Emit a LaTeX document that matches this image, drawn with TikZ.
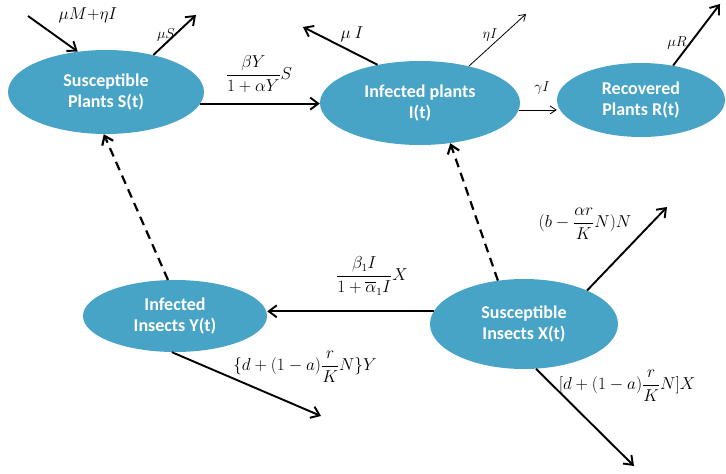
\documentclass[tikz,border=0pt]{standalone}
\usepackage{amsmath}
\usepackage{fontspec}
\setmainfont{Liberation Serif}
\newfontfamily\boxfont{Carlito}
\usetikzlibrary{arrows.meta,shapes.geometric}
\definecolor{ellblue}{RGB}{72,164,198}
\begin{document}
\begin{tikzpicture}[x=1pt,y=-1pt,
  comp/.style={ellipse, fill=ellblue, draw=none, text=white,
    font=\boxfont\bfseries\fontsize{18}{21}\selectfont, align=center, inner sep=0pt},
  thickarr/.style={line width=1.9pt, -{Straight Barb[length=8pt,width=12pt]}},
  thinarr/.style={line width=0.8pt, -{Straight Barb[length=6pt,width=8pt]}},
  dasharr/.style={line width=2.2pt, dash pattern=on 9pt off 6pt, -{Straight Barb[length=8pt,width=12pt]}},
  lab/.style={inner sep=0pt, font=\fontsize{16}{19}\selectfont}]
\useasboundingbox (0,0) rectangle (726,474);

% compartments
\node[comp, minimum width=196pt, minimum height=84pt] (S) at (106,92) {Susceptible\\Plants S(t)};
\node[comp, minimum width=200pt, minimum height=84pt] (I) at (420,103) {Infected plants\\I(t)};
\node[comp, minimum width=168pt, minimum height=74pt] (R) at (641,100) {Recovered\\Plants R(t)};
\node[comp, minimum width=184pt, minimum height=72pt] (Y) at (175,316) {Infected\\Insects Y(t)};
\node[comp, minimum width=188pt, minimum height=90pt] (X) at (524,324) {Susceptible\\Insects X(t)};

% free ends
\coordinate (inS) at (28,16);
\coordinate (outS) at (196,15);
\coordinate (outIa) at (303,27);
\coordinate (outIb) at (526,14);
\coordinate (outR) at (720,4);
\coordinate (outXa) at (667,207);
\coordinate (outXb) at (634,466);
\coordinate (outY) at (321,416);

% connectors
\draw[thickarr] (inS) -- (S.125);
\draw[thickarr] (S.38) -- (outS);
\draw[thickarr] (S.-7) -- (I.west |- S.-7);
\draw[thickarr] (I.138) -- (outIa);
\draw[thinarr] (I.37) -- (outIb);
\draw[thinarr] (I.-4) -- (R.west |- I.-4);
\draw[thickarr] (R.47) -- (outR);
\draw[dasharr] (Y.101) -- (S.-93);
\draw[dasharr] (X.121) -- (I.-53);
\draw[thickarr] (X.172) -- (Y.east |- X.172);
\draw[thickarr] (X.28) -- (outXa);
\draw[thickarr] (X.-75) -- (outXb);
\draw[thickarr] (Y.-95) -- (outY);

% labels
\node[lab, font=\fontsize{19}{21}\selectfont] (lin) at (88,15) {$\mu M{+}\eta I$};
\node[lab, font=\fontsize{14}{16}\selectfont] (lmuS) at (166,35) {$\mu S$};
\node[lab] (lSI) at (259,74) {$\dfrac{\beta Y}{1+\alpha Y}S$};
\node[lab] (lmuI) at (352,34) {$\mu\ I$};
\node[lab, font=\fontsize{14}{16}\selectfont] (leta) at (490,35) {$\eta I$};
\node[lab, font=\fontsize{14}{16}\selectfont] (lgam) at (542,88) {$\gamma I$};
\node[lab, font=\fontsize{14}{16}\selectfont] (lmuR) at (677,43) {$\mu R$};
\node[lab] (lXY) at (372,276) {$\dfrac{\beta_1 I}{1+\overline{\alpha}_1 I}X$};
\node[lab] (lXa) at (585,224) {$(b-\dfrac{\alpha r}{K}N)N$};
\node[lab] (lY) at (305,367) {$\{d+(1-a)\dfrac{r}{K}N\}Y$};
\node[lab] (lXb) at (627,386) {$[d+(1-a)\dfrac{r}{K}N]X$};
\end{tikzpicture}
\end{document}
